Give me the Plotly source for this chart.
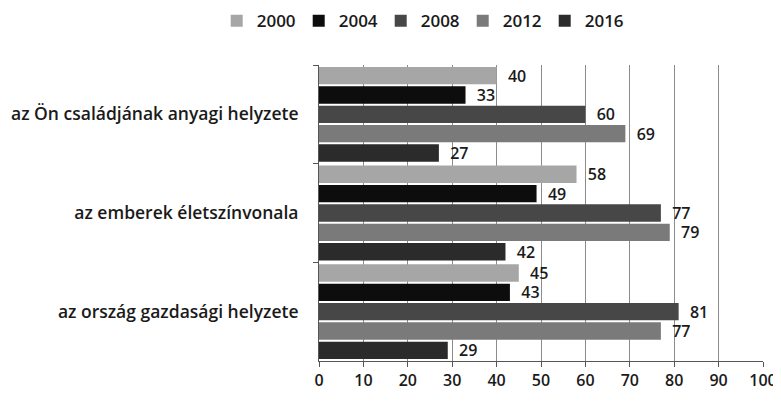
import plotly.graph_objects as go

categories = ["az Ön családjának anyagi helyzete", "az emberek életszínvonala", "az ország gazdasági helyzete"]
years = ["2000", "2004", "2008", "2012", "2016"]
values = {
    "2000": [40, 58, 45],
    "2004": [33, 49, 43],
    "2008": [60, 77, 81],
    "2012": [69, 79, 77],
    "2016": [27, 42, 29],
}
colors = ["#a6a6a6", "#0d0d0d", "#474747", "#7a7a7a", "#2b2b2b"]

font = "Open Sans"

fig = go.Figure()
for yr, col in zip(years, colors):
    fig.add_trace(go.Bar(
        y=categories, x=values[yr], name=yr, orientation="h",
        marker=dict(color=col, line=dict(width=0)),
        text=values[yr], texttemplate="  %{x}", textposition="outside", cliponaxis=False,
        textfont=dict(family=font, size=16, color="#1a1a1a", weight=600),
    ))

# page body has an 8px margin, so the figure is drawn 8px in from the window edge
fig.update_layout(
    width=773, height=393,
    margin=dict(l=311, r=18, t=57, b=40, autoexpand=False),
    barmode="group", bargap=0.02, bargroupgap=0.1,
    plot_bgcolor="white", paper_bgcolor="white",
    font=dict(family=font, size=16, color="#1a1a1a", weight=600),
    legend=dict(orientation="h", xref="container", x=0.27, xanchor="left",
                y=1.148, yanchor="middle",
                font=dict(size=17, weight=600), itemwidth=30,
                entrywidth=37, traceorder="normal"),
    uniformtext=dict(minsize=14, mode="show"),
)
fig.update_xaxes(range=[0, 100], dtick=10, showgrid=True, gridcolor="#8c8c8c", gridwidth=1,
                 showline=True, linecolor="#555", ticks="outside", ticklen=5, tickcolor="#555",
                 zeroline=False, tickfont=dict(size=16, weight=600), automargin=False)
fig.update_yaxes(autorange="reversed", showline=True, linecolor="#555", ticks="outside",
                 tickson="boundaries", ticklen=5, tickcolor="#555",
                 tickfont=dict(size=17.5, weight=600), ticklabelstandoff=16, automargin=False)

fig.write_html("out.html")
